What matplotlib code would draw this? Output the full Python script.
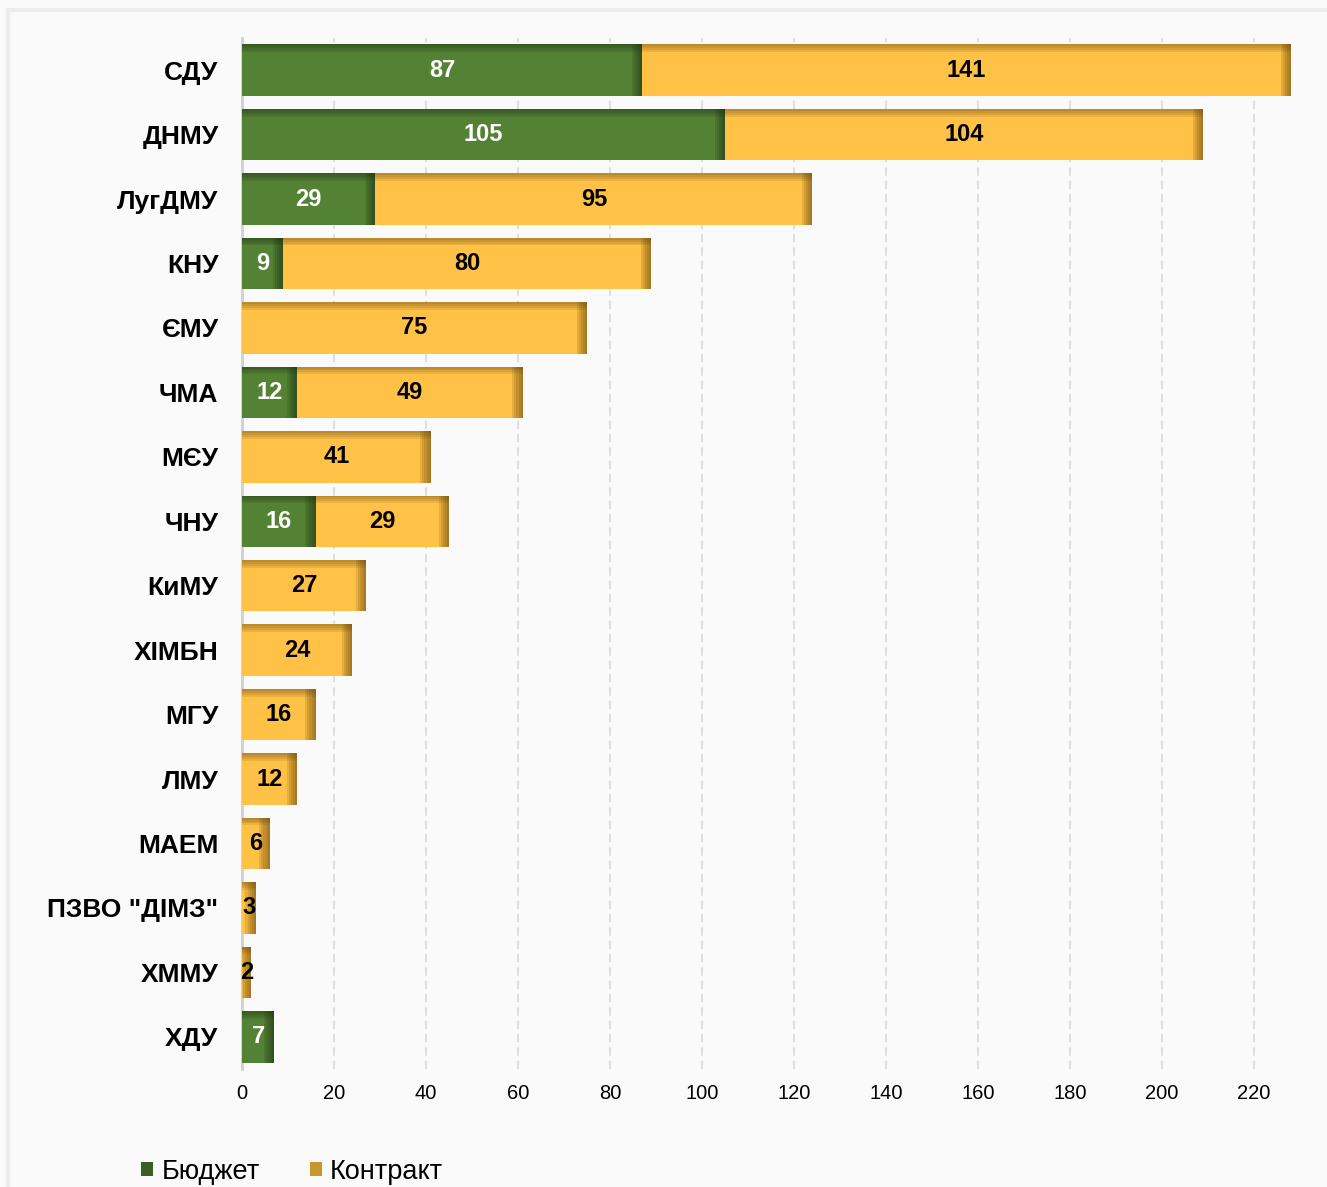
import numpy as np
import matplotlib.pyplot as plt
from matplotlib.patches import Rectangle

plt.rcParams['font.family'] = ['Liberation Sans', 'DejaVu Sans']

# дані
universities = ['СДУ', 'ДНМУ', 'ЛугДМУ', 'КНУ', 'ЄМУ', 'ЧМА', 'МЄУ', 'ЧНУ', 'КиМУ',
                'ХІМБН', 'МГУ', 'ЛМУ', 'МАЕМ', 'ПЗВО "ДІМЗ"', 'ХММУ', 'ХДУ']
budget = [87, 105, 29, 9, 0, 12, 0, 16, 0, 0, 0, 0, 0, 0, 0, 7]
contract = [141, 104, 95, 80, 75, 49, 41, 29, 27, 24, 16, 12, 6, 3, 2, 0]
x_ticks = list(range(0, 221, 20))

green = '#548235'
gold = '#FFC247'
bg = '#FAFAFA'

fig = plt.figure(figsize=(13.27, 11.87), dpi=100, facecolor=bg)
# рамка-картка
fig.patches.append(Rectangle((0.006, -0.01), 1.0, 1.0 - 0.0085 + 0.01, transform=fig.transFigure,
                             facecolor='none', edgecolor='#ececec', lw=3))
ax = fig.add_axes([0.1824, 0.0994, 0.7973, 0.8686], facecolor=bg)

y = np.arange(len(universities))
h = 0.8
b = np.array(budget, dtype=float)
c = np.array(contract, dtype=float)

ax.barh(y, b, height=h, color=green, zorder=3)
ax.barh(y, c, left=b, height=h, color=gold, zorder=3)


def shade(left, width, color):
    # темніша кромка справа та зверху (імітація тіні)
    for i in range(len(y)):
        if width[i] <= 0:
            continue
        right = left[i] + width[i]
        for k in range(5):
            w = min((5 - k) * 0.45, width[i])
            ax.barh(y[i], w, left=right - w, height=h, color=color, alpha=0.16,
                    zorder=4, lw=0)
        for k in range(4):
            th = (4 - k) * 0.03
            ax.barh(y[i] - h / 2 + th / 2, width[i], left=left[i], height=th, color=color,
                    alpha=0.14, zorder=4, lw=0)


shade(np.zeros(len(y)), b, '#1f3312')
shade(b, c, '#6b4a10')

for i in range(len(y)):
    if b[i] > 0:
        ax.text(b[i] / 2, y[i], str(budget[i]), ha='center', va='center', color='white',
                fontsize=17, fontweight='bold', zorder=5)
    if c[i] > 0:
        ax.text(b[i] + c[i] / 2, y[i], str(contract[i]), ha='center', va='center',
                color='black', fontsize=17, fontweight='bold', zorder=5)

ax.set_ylim(len(y) - 0.5, -0.5)
ax.set_xlim(0, 230)
ax.set_yticks(y)
ax.set_yticklabels(universities, fontsize=19, fontweight='bold')
ax.set_xticks(x_ticks)
ax.tick_params(axis='y', length=0, pad=17)
ax.tick_params(axis='x', length=0, pad=11, labelsize=14.5)
ax.grid(axis='x', color='#d9d9d9', ls=(0, (5, 3)), lw=1.2, zorder=0)
for s in ['top', 'right', 'bottom']:
    ax.spines[s].set_visible(False)
ax.spines['left'].set_color('#d0d0d0')
ax.spines['left'].set_linewidth(2)

handles = [Rectangle((0, 0), 1, 1, facecolor='#3a5e24'), Rectangle((0, 0), 1, 1, facecolor='#c7962e')]
fig.legend(handles, ['Бюджет', 'Контракт'], loc='center left', bbox_to_anchor=(0.088, 0.013),
           ncol=2, frameon=False, fontsize=19.5, handlelength=0.45, handleheight=0.45,
           handletextpad=0.3, columnspacing=1.85)

fig.savefig('out.png', dpi=100, facecolor=bg)
